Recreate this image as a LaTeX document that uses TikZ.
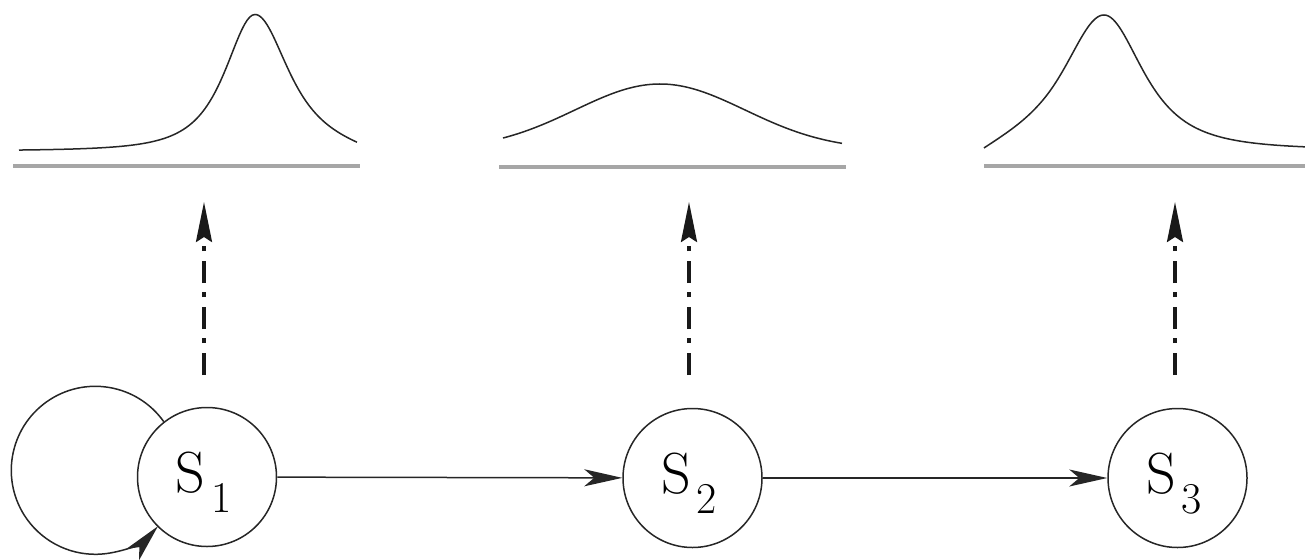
\documentclass[tikz,border=0pt]{standalone}
\usepackage{fontspec}
\usetikzlibrary{arrows.meta}
\newcommand\statelabel[1]{\raisebox{-15pt}{S\kern6pt\raisebox{-20pt}{\fontsize{44}{44}\selectfont #1}\kern6.6pt}}
\begin{document}
\begin{tikzpicture}[x=1pt,y=-1pt,
  state/.style={circle,draw=black!85,line width=1.5pt,minimum size=139pt,inner sep=0pt,
    text height=0pt,text depth=0pt,font=\rmfamily\fontsize{58}{58}\selectfont},
  trans/.style={line width=1.5pt,draw=black!85,-{Stealth[length=38pt,width=17pt,inset=10pt]}},
  emit/.style={line width=3.2pt,draw=black!90,dash pattern=on 22pt off 10pt on 5pt off 9pt,
    -{Stealth[length=40pt,width=16pt,inset=5pt]}},
  dist/.style={line width=1.5pt,draw=black!85},
  axisline/.style={line width=3.5pt,draw=black!35},
]
\useasboundingbox (0,0) rectangle (1305,559);

% baselines of the distributions
\draw[axisline] (13,166) -- (360,166);
\draw[axisline] (499,167) -- (846,167);
\draw[axisline] (984,166) -- (1305,166);

% distribution 1 (peak at 255)
\draw[dist] plot[domain=19:255,samples=90] (\x,{151-136.5*exp(-1.5*ln(1+((\x-255)/46)^2))})
  -- plot[domain=255:307,samples=30] (\x,{151-136.5*exp(-1.5*ln(1+((\x-255)/52)^2))})
  -- plot[domain=307:357,samples=25] (\x,{151-136.5*exp(-1.5*ln(1+((\x-255)/52)^2))+4*((\x-307)/50)^2});
% distribution 2 (broad)
\draw[dist] plot[domain=503:842,samples=120] (\x,{150-66*exp(-0.5*((\x-660)/85)^2)});
% distribution 3 (peak at 1104)
\draw[dist] plot[domain=984:1043,samples=30] (\x,{150-135*exp(-1.5*ln(1+((\x-1104)/63)^2))+11.5*((1043-\x)/59)^2})
  -- plot[domain=1043:1104,samples=40] (\x,{150-135*exp(-1.5*ln(1+((\x-1104)/63)^2))})
  -- plot[domain=1104:1305,samples=90] (\x,{150-135*exp(-1.5*ln(1+((\x-1104)/60)^2))});

% states
\node[state] (s1) at (207,477) {\statelabel{1}};
\node[state] (s2) at (692.5,478) {\statelabel{2}};
\node[state] (s3) at (1177.5,478) {\statelabel{3}};

\draw[trans] (s1) -- (s2);
\draw[trans] (s2) -- (s3);
\draw[trans] (s1.128) arc[start angle=-35.4, end angle=-318.3, radius=84];

% emissions
\coordinate (b1) at (204,375); \coordinate (t1) at (204,202);
\coordinate (b2) at (689,375); \coordinate (t2) at (689,202);
\coordinate (b3) at (1175,375); \coordinate (t3) at (1175,202);
\draw[emit] (b1) -- (t1);
\draw[emit] (b2) -- (t2);
\draw[emit] (b3) -- (t3);
\end{tikzpicture}
\end{document}
